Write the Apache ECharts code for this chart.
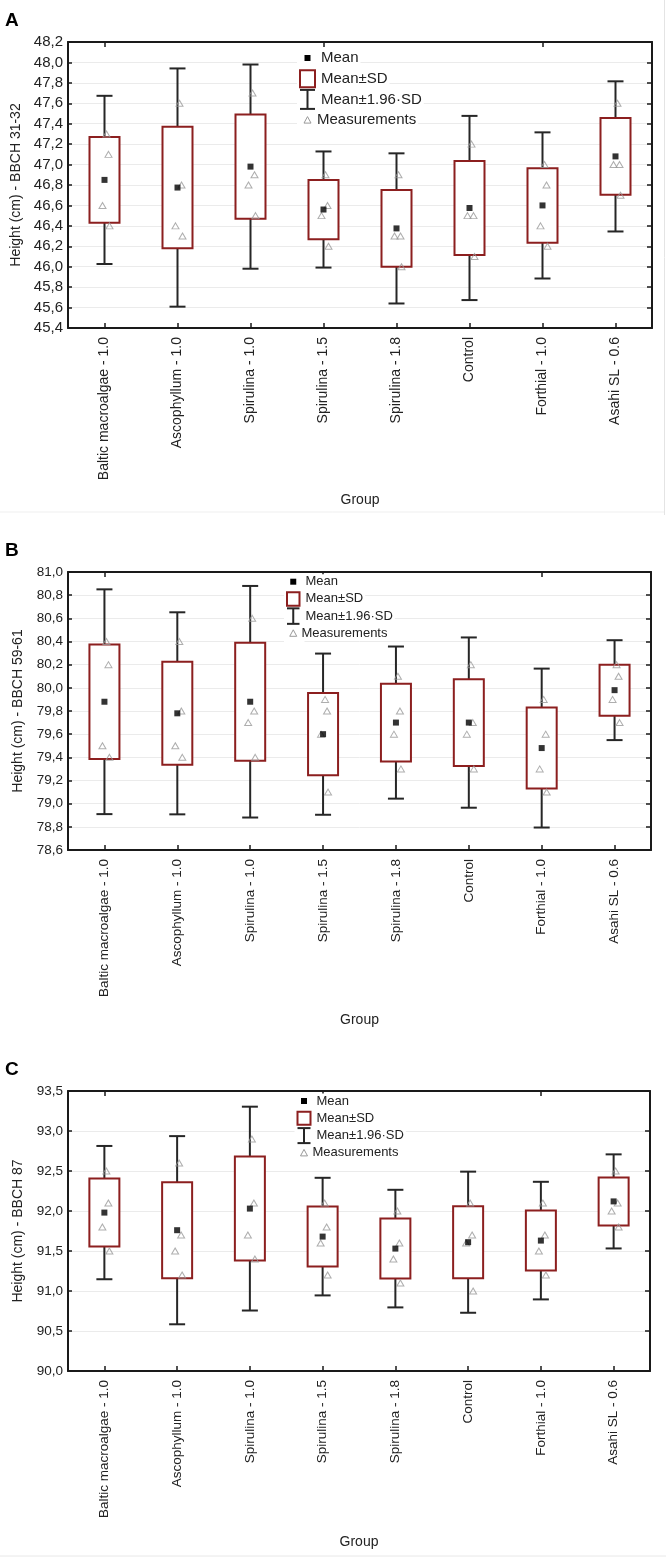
<!DOCTYPE html>
<html>
<head>
<meta charset="utf-8">
<script src="https://cdn.jsdelivr.net/npm/echarts@6/dist/echarts.min.js"></script>
<style>
html,body{margin:0;padding:0;background:#fff;}
#chart{width:666px;height:1558px;}
</style>
</head>
<body>
<div id="chart"></div>
<script>
// ---------------- DATA ----------------
const categories = ['Baltic macroalgae - 1.0','Ascophyllum - 1.0','Spirulina - 1.0','Spirulina - 1.5','Spirulina - 1.8','Control','Forthial - 1.0','Asahi SL - 0.6'];

// Panel A: BBCH 31-32
const meanA = [46.85, 46.775, 46.98, 46.56, 46.375, 46.575, 46.60, 47.08];
const sdA   = [0.42, 0.595, 0.51, 0.29, 0.375, 0.46, 0.365, 0.375];
const measA = [[47.3,47.1,46.6,46.4],[47.6,46.8,46.4,46.3],[47.7,46.9,46.8,46.5],[46.9,46.6,46.5,46.2],
               [46.9,46.3,46.3,46.0],[47.2,46.5,46.5,46.1],[47.0,46.8,46.4,46.2],[47.6,47.0,47.0,46.7]];
const ticksA = {min:45.4, max:48.2, interval:0.2};

// Panel B: BBCH 59-61
const meanB = [79.88, 79.78, 79.88, 79.60, 79.70, 79.70, 79.48, 79.98];
const sdB   = [0.495, 0.445, 0.51, 0.355, 0.335, 0.375, 0.35, 0.22];
const measB = [[80.4,80.2,79.5,79.4],[80.4,79.8,79.5,79.4],[80.6,79.8,79.7,79.4],[79.9,79.8,79.6,79.1],
               [80.1,79.8,79.6,79.3],[80.2,79.7,79.6,79.3],[79.9,79.6,79.3,79.1],[80.2,80.1,79.9,79.7]];
const ticksB = {min:78.6, max:81.0, interval:0.2};

// Panel C: BBCH 87
const meanC = [91.98, 91.76, 92.03, 91.68, 91.53, 91.61, 91.63, 92.12];
const sdC   = [0.425, 0.60, 0.65, 0.375, 0.375, 0.45, 0.375, 0.30];
const measC = [[92.5,92.1,91.8,91.5],[92.6,91.7,91.5,91.2],[92.9,92.1,91.7,91.4],[92.1,91.8,91.6,91.2],
               [92.0,91.6,91.4,91.1],[92.1,91.7,91.6,91.0],[92.1,91.7,91.5,91.2],[92.5,92.1,92.0,91.8]];
const ticksC = {min:90.0, max:93.5, interval:0.5};

const yNames = ['Height (cm) - BBCH 31-32','Height (cm) - BBCH 59-61','Height (cm) - BBCH 87'];
const panelLetters = ['A','B','C'];
const xName = 'Group';
const legendNames = ['Mean','Mean\u00b1SD','Mean\u00b11.96\u00b7SD','Measurements'];

// ---------------- STYLE ----------------
const FONT = 'Liberation Sans, Arial, sans-serif';
const BOX_COLOR = '#8c1f1f';
const WHISK_COLOR = '#262626';
const TRI_COLOR = '#9a9a9a';
const TRI_OFFSETS = [2, 4, -2, 5];

const panels = [
  {mean:meanA, sd:sdA, meas:measA, ticks:ticksA, grid:{left:68, top:42, width:584, height:286},
   tickFont:15, xFont:14, nameGapY:42, nameGapX:165,
   legend:{x:300, y:58, step:20.7, iw:15, ih:17, font:15}},
  {mean:meanB, sd:sdB, meas:measB, ticks:ticksB, grid:{left:68, top:572, width:583, height:278},
   tickFont:13.5, xFont:13.5, nameGapY:43, nameGapX:163,
   legend:{x:287, y:581.7, step:17.2, iw:12.5, ih:13.5, font:13}},
  {mean:meanC, sd:sdC, meas:measC, ticks:ticksC, grid:{left:68, top:1091, width:582, height:280},
   tickFont:13.5, xFont:13.5, nameGapY:43, nameGapX:164,
   legend:{x:297.5, y:1101, step:17.3, iw:13, ih:13, font:13}}
];

const fmt = v => v.toFixed(1).replace('.', ',');

const grids = [], xAxes = [], yAxes = [], series = [], graphics = [];

function whiskerRender(params, api){
  const x = api.value(0), m = api.value(1), s = api.value(2);
  const top = api.coord([x, m + 1.96 * s]);
  const bot = api.coord([x, m - 1.96 * s]);
  const cx = top[0], hw = 8;
  const st = {stroke: WHISK_COLOR, lineWidth: 2};
  return {type:'group', children:[
    {type:'line', shape:{x1:cx, y1:top[1], x2:cx, y2:bot[1]}, style:st},
    {type:'line', shape:{x1:cx-hw, y1:top[1], x2:cx+hw, y2:top[1]}, style:st},
    {type:'line', shape:{x1:cx-hw, y1:bot[1], x2:cx+hw, y2:bot[1]}, style:st}
  ]};
}
function boxRender(params, api){
  const x = api.value(0), m = api.value(1), s = api.value(2);
  const top = api.coord([x, m + s]);
  const bot = api.coord([x, m - s]);
  const hw = 15;
  return {type:'rect', shape:{x: top[0]-hw, y: top[1], width: 2*hw, height: bot[1]-top[1]},
          style:{fill:'#fff', stroke: BOX_COLOR, lineWidth: 2}};
}

panels.forEach((p, gi) => {
  grids.push(Object.assign({containLabel:false}, p.grid));
  const xb = xAxes.length;
  xAxes.push({
    type:'category', gridIndex:gi, data:categories, position:'bottom', boundaryGap:true,
    name: xName, nameLocation:'middle', nameGap:p.nameGapX,
    nameTextStyle:{fontFamily:FONT, fontSize:14, color:'#222'},
    axisLine:{show:true, lineStyle:{color:'#1a1a1a', width:2}},
    axisTick:{show:true, inside:true, alignWithLabel:true, length:5, lineStyle:{color:'#1a1a1a', width:1.5}},
    axisLabel:{rotate:90, margin:9, fontFamily:FONT, fontSize:p.xFont, color:'#222', interval:0},
    splitLine:{show:false}
  });
  xAxes.push({
    type:'category', gridIndex:gi, data:categories, position:'top', boundaryGap:true,
    axisLine:{show:true, lineStyle:{color:'#1a1a1a', width:2}},
    axisTick:{show:true, inside:true, alignWithLabel:true, length:5, lineStyle:{color:'#1a1a1a', width:1.5}},
    axisLabel:{show:false}, splitLine:{show:false}
  });
  const yb = yAxes.length;
  yAxes.push({
    type:'value', gridIndex:gi, position:'left', min:p.ticks.min, max:p.ticks.max, interval:p.ticks.interval,
    name: yNames[gi], nameLocation:'middle', nameGap:p.nameGapY, nameRotate:90,
    nameTextStyle:{fontFamily:FONT, fontSize:14, color:'#222'},
    axisLine:{show:true, lineStyle:{color:'#1a1a1a', width:2}},
    axisTick:{show:true, inside:true, length:4, lineStyle:{color:'#1a1a1a', width:1.5}},
    axisLabel:{formatter:fmt, margin:5, fontFamily:FONT, fontSize:p.tickFont, color:'#222'},
    splitLine:{show:true, lineStyle:{color:'#ebebeb', width:1}}
  });
  yAxes.push({
    type:'value', gridIndex:gi, position:'right', min:p.ticks.min, max:p.ticks.max, interval:p.ticks.interval,
    axisLine:{show:true, lineStyle:{color:'#1a1a1a', width:2}},
    axisTick:{show:true, inside:true, length:5, lineStyle:{color:'#1a1a1a', width:1.5}},
    axisLabel:{show:false}, splitLine:{show:false}
  });

  const statData = categories.map((c, i) => [i, p.mean[i], p.sd[i]]);
  series.push({
    name: legendNames[2], type:'custom', xAxisIndex:xb, yAxisIndex:yb, renderItem: whiskerRender,
    data: statData, encode:{x:0, y:1}, z:2, silent:true
  });
  series.push({
    name: legendNames[1], type:'custom', xAxisIndex:xb, yAxisIndex:yb, renderItem: boxRender,
    data: statData, encode:{x:0, y:1}, z:3, silent:true
  });
  const measData = [];
  p.meas.forEach((arr, i) => arr.forEach((v, k) => {
    measData.push({value:[i, v], symbolOffset:[TRI_OFFSETS[k], 0]});
  }));
  series.push({
    name: legendNames[3], type:'scatter', xAxisIndex:xb, yAxisIndex:yb,
    symbol:'triangle', symbolSize:[7, 6], data: measData, z:4, silent:true,
    itemStyle:{color:'rgba(255,255,255,0)', borderColor:TRI_COLOR, borderWidth:1}
  });
  series.push({
    name: legendNames[0], type:'scatter', xAxisIndex:xb, yAxisIndex:yb,
    symbol:'rect', symbolSize:6, data: categories.map((c, i) => [i, p.mean[i]]), z:5, silent:true,
    itemStyle:{color:'#000'}
  });

  // panel letter
  graphics.push({type:'text', left:5, top: p.grid.top - 31, z:100,
    style:{text: panelLetters[gi], font:'bold 19px ' + FONT, fill:'#000'}});

  // legend (drawn as graphic elements, above the grid lines)
  const L = p.legend;
  const cx = L.x + L.iw/2;
  const tx = L.x + L.iw + 5;
  const ts = {font: L.font + 'px ' + FONT, fill:'#222', verticalAlign:'middle', backgroundColor:'#fff', padding:[1,2,1,1]};
  graphics.push(
    {type:'rect', z:99, shape:{x:L.x-3, y:L.y-L.step/2, width:tx-L.x+3, height:L.step*4}, style:{fill:'#fff'}},
    {type:'rect', z:100, shape:{x:cx-3, y:L.y-3, width:6, height:6}, style:{fill:'#000'}},
    {type:'text', z:100, x:tx, y:L.y, style:Object.assign({text:legendNames[0]}, ts)},
    {type:'rect', z:100, shape:{x:L.x, y:L.y+L.step-L.ih/2, width:L.iw, height:L.ih}, style:{fill:'#fff', stroke:BOX_COLOR, lineWidth:2}},
    {type:'text', z:100, x:tx, y:L.y+L.step, style:Object.assign({text:legendNames[1]}, ts)},
    {type:'line', z:100, shape:{x1:cx, y1:L.y+2*L.step-L.ih/2-1, x2:cx, y2:L.y+2*L.step+L.ih/2+1}, style:{stroke:WHISK_COLOR, lineWidth:2}},
    {type:'line', z:100, shape:{x1:L.x, y1:L.y+2*L.step-L.ih/2-1, x2:L.x+L.iw, y2:L.y+2*L.step-L.ih/2-1}, style:{stroke:WHISK_COLOR, lineWidth:2}},
    {type:'line', z:100, shape:{x1:L.x, y1:L.y+2*L.step+L.ih/2+1, x2:L.x+L.iw, y2:L.y+2*L.step+L.ih/2+1}, style:{stroke:WHISK_COLOR, lineWidth:2}},
    {type:'text', z:100, x:tx, y:L.y+2*L.step, style:Object.assign({text:legendNames[2]}, ts)},
    {type:'polygon', z:100, shape:{points:[[cx, L.y+3*L.step-3.5],[cx-3.5, L.y+3*L.step+3],[cx+3.5, L.y+3*L.step+3]]}, style:{fill:'none', stroke:TRI_COLOR, lineWidth:1}},
    {type:'text', z:101, x:tx-4, y:L.y+3*L.step, style:Object.assign({text:legendNames[3]}, ts)}
  );
});

// faint figure frame lines
graphics.push(
  {type:'line', shape:{x1:0, y1:512, x2:665, y2:512}, style:{stroke:'#efefef', lineWidth:1}},
  {type:'line', shape:{x1:664.5, y1:0, x2:664.5, y2:515}, style:{stroke:'#e4e4e4', lineWidth:1}},
  {type:'line', shape:{x1:0, y1:1556, x2:666, y2:1556}, style:{stroke:'#e8e8e8', lineWidth:1}}
);

const chart = echarts.init(document.getElementById('chart'), null, {renderer:'canvas'});
chart.setOption({
  animation:false,
  backgroundColor:'#fff',
  grid: grids,
  xAxis: xAxes,
  yAxis: yAxes,
  series: series,
  graphic: graphics
});
</script>
</body>
</html>
